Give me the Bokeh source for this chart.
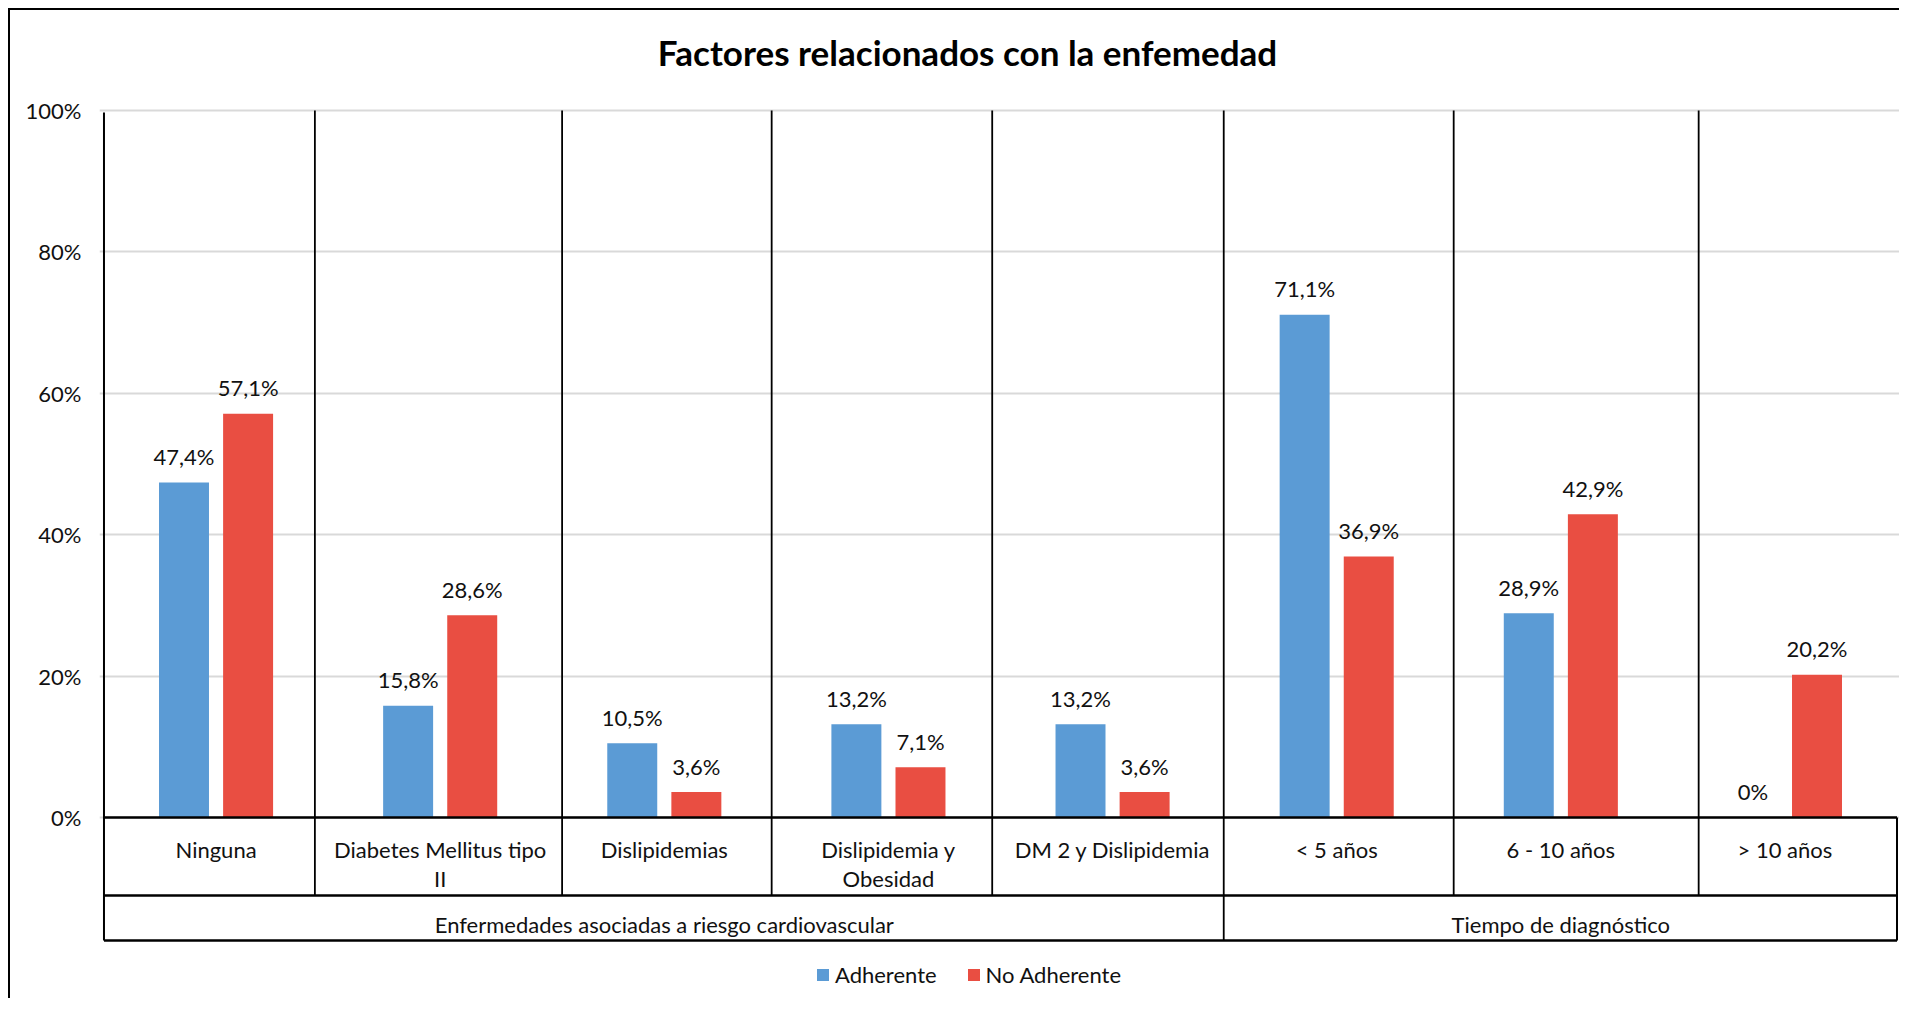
import numpy as np
from bokeh.plotting import figure
from bokeh.models import Range1d, FixedTicker, NumeralTickFormatter, Legend, LegendItem, ColumnDataSource
from bokeh.transform import dodge
from bokeh.core.properties import value
from bokeh.embed import file_html
from bokeh.resources import INLINE

# ---- data ----
categories = ["Ninguna", "Diabetes Mellitus tipo\nII", "Dislipidemias", "Dislipidemia y\nObesidad",
              "DM 2 y Dislipidemia", "< 5 años", "6 - 10 años", "> 10 años"]
adherente = [47.4, 15.8, 10.5, 13.2, 13.2, 71.1, 28.9, 0.0]
no_adherente = [57.1, 28.6, 3.6, 7.1, 3.6, 36.9, 42.9, 20.2]
groups = ["Enfermedades asociadas a riesgo cardiovascular", "Tiempo de diagnóstico"]
group_sizes = [5, 3]
y_ticks = [0, 0.2, 0.4, 0.6, 0.8, 1.0]
title_text = "Factores relacionados con la enfemedad"
series_names = ["Adherente", "No Adherente"]

# ---- styles ----
BLUE = "#5B9BD5"
RED = "#E94E42"
FONT = "Lato"
FS = "22px"
TXT = "#111111"

def fmt(v):
    if v == 0:
        return "0%"
    return f"{v:.1f}".replace(".", ",") + "%"

n = len(categories)
xc = np.arange(n) + 0.5
line1 = [c.split("\n")[0] for c in categories]
line2 = [c.split("\n")[1] if "\n" in c else "" for c in categories]
src = ColumnDataSource(dict(
    x=xc,
    a=np.array(adherente) / 100.0,
    b=np.array(no_adherente) / 100.0,
    la=[fmt(v) for v in adherente],
    lb=[fmt(v) for v in no_adherente],
    l1=line1,
    l2=line2,
))

W, H = 1891, 990
p = figure(width=W, height=H, output_backend="svg", toolbar_location=None,
           x_range=Range1d(-0.02, 8.02), y_range=Range1d(-0.2588, 1.1414),
           min_border_left=89, min_border_right=0, min_border_top=0, min_border_bottom=0,
           x_axis_location=None)
p.margin = (8, 0, 0, 8)
p.styles = {"border-left": "2px solid #000", "border-top": "2px solid #000"}
p.outline_line_color = None
p.xgrid.visible = False
p.ygrid.ticker = FixedTicker(ticks=y_ticks)
p.ygrid.grid_line_color = "#D9D9D9"
p.ygrid.grid_line_width = 2

ax = p.yaxis[0]
ax.ticker = FixedTicker(ticks=y_ticks)
ax.formatter = NumeralTickFormatter(format="0%")
ax.axis_line_color = None
ax.major_tick_line_color = None
ax.minor_tick_line_color = None
ax.major_label_standoff = 12
ax.major_label_text_font = FONT
ax.major_label_text_font_size = FS
ax.major_label_text_color = TXT

# bars
OFF = 0.143
BW = 0.223
ra = p.vbar(x=dodge("x", -OFF, range=p.x_range), top="a", bottom=0, width=BW, source=src,
            fill_color=BLUE, line_color=None)
rb = p.vbar(x=dodge("x", OFF, range=p.x_range), top="b", bottom=0, width=BW, source=src,
            fill_color=RED, line_color=None)

for col, lab, off in (("a", "la", -OFF), ("b", "lb", OFF)):
    p.text(x=dodge("x", off, range=p.x_range), y=col, text=lab, source=src,
           text_align="center", text_baseline="alphabetic", y_offset=-26,
           text_font=value(FONT), text_font_size=FS, text_color=TXT)

# table / separators
LINE = "#000000"
ROW1 = -0.1103
ROW2 = -0.174
sep_x = [0.941, 2.044, 2.979, 3.963, 4.996, 6.022, 7.115]
group_bound_idx = 4  # separator between groups
p.segment(x0=[0], y0=[0.997], x1=[0], y1=[ROW2], line_color=LINE, line_width=2)
p.segment(x0=[n], y0=[0], x1=[n], y1=[ROW2], line_color=LINE, line_width=2)
p.segment(x0=[0, 0, 0], y0=[0, ROW1, ROW2], x1=[n, n, n], y1=[0, ROW1, ROW2],
          line_color=LINE, line_width=2.5)
sx0, sy0, sy1 = [], [], []
for i, s in enumerate(sep_x):
    sx0.append(s)
    sy0.append(1.0)
    sy1.append(ROW2 if i == group_bound_idx else ROW1)
p.segment(x0=sx0, y0=sy0, x1=sx0, y1=sy1, line_color=LINE, line_width=1.8)

# category labels (two lines)
p.text(x="x", y=-0.0453, text="l1", source=src, text_align="center", text_baseline="middle",
       text_font=value(FONT), text_font_size=FS, text_color=TXT)
p.text(x="x", y=-0.0863, text="l2", source=src, text_align="center", text_baseline="middle",
       text_font=value(FONT), text_font_size=FS, text_color=TXT)
# group labels
starts = np.cumsum([0] + group_sizes[:-1])
gx = [s + g / 2 for s, g in zip(starts, group_sizes)]
p.text(x=gx, y=[-0.1513] * len(gx), text=groups, text_align="center", text_baseline="middle",
       text_font=value(FONT), text_font_size=FS, text_color=TXT)

# title
p.text(x=[3.853], y=[1.083], text=[title_text], text_align="center", text_baseline="middle",
       text_font=value(FONT), text_font_size="35px", text_font_style="bold", text_color="#000000")

legend = Legend(items=[LegendItem(label=series_names[0], renderers=[ra]),
                       LegendItem(label=series_names[1], renderers=[rb])],
                orientation="horizontal", location=(716, 12), padding=0, margin=0,
                spacing=29, label_standoff=5, glyph_width=15, glyph_height=15,
                label_text_font=FONT, label_text_font_size=FS, label_text_color=TXT,
                border_line_color=None, background_fill_alpha=0)
p.add_layout(legend)

open("out.html", "w").write(file_html(p, INLINE))
